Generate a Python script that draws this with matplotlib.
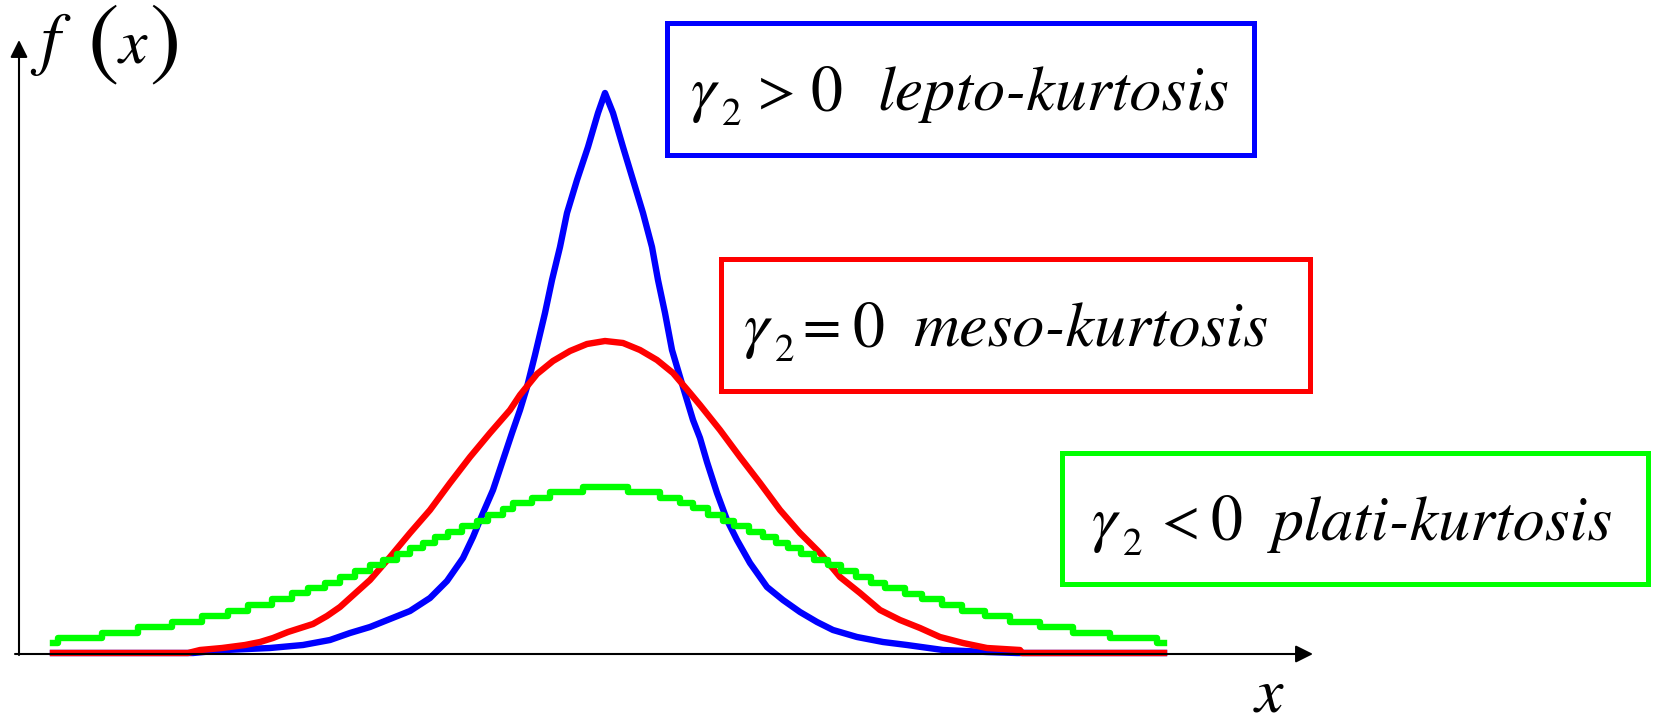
import matplotlib
matplotlib.use("Agg")
import matplotlib.pyplot as plt
from matplotlib.patches import Rectangle

# Times-like serif faces (STIX ships with matplotlib)
plt.rcParams["font.family"] = ["STIXGeneral", "Liberation Serif", "DejaVu Serif"]

# ---- density curves (x in standard units, f(x) in arbitrary density units) ----
lepto_x = [-5.52, -4.12, -3.80, -3.35, -3.02, -2.75, -2.55, -2.35, -2.15, -1.95,
           -1.75, -1.58, -1.42, -1.32, -1.22, -1.12, -1.02, -0.93, -0.85, -0.78,
           -0.70, -0.60, -0.53, -0.45, -0.38, -0.28, -0.17, -0.07, 0.00, 0.08,
           0.18, 0.28, 0.38, 0.47, 0.53, 0.60, 0.67, 0.78, 0.88, 0.95,
           1.02, 1.12, 1.22, 1.32, 1.45, 1.62, 1.78, 1.95, 2.12, 2.28,
           2.52, 2.78, 3.02, 3.38, 3.82, 4.12, 5.59]
lepto_f = [0.001, 0.001, 0.004, 0.006, 0.009, 0.014, 0.021, 0.027, 0.035, 0.043,
           0.056, 0.073, 0.096, 0.117, 0.141, 0.164, 0.194, 0.221, 0.244, 0.267,
           0.299, 0.341, 0.374, 0.407, 0.441, 0.474, 0.507, 0.541, 0.561, 0.541,
           0.507, 0.474, 0.441, 0.407, 0.374, 0.341, 0.304, 0.267, 0.234, 0.216,
           0.192, 0.161, 0.134, 0.114, 0.091, 0.067, 0.054, 0.042, 0.032, 0.024,
           0.017, 0.012, 0.009, 0.004, 0.002, 0.001, 0.001]

meso_x = [-5.52, -4.17, -4.05, -3.83, -3.60, -3.45, -3.32, -3.17, -2.92, -2.78,
          -2.65, -2.55, -2.35, -2.15, -1.95, -1.75, -1.55, -1.35, -1.15, -0.95,
          -0.85, -0.68, -0.52, -0.35, -0.18, 0.00, 0.18, 0.35, 0.52, 0.68,
          0.85, 0.95, 1.15, 1.35, 1.55, 1.75, 1.95, 2.15, 2.35, 2.55,
          2.75, 2.95, 3.15, 3.35, 3.58, 3.82, 4.15, 4.17, 5.59]
meso_f = [0.001, 0.001, 0.004, 0.006, 0.009, 0.012, 0.016, 0.022, 0.030, 0.038,
          0.047, 0.056, 0.074, 0.097, 0.121, 0.144, 0.171, 0.197, 0.221, 0.244,
          0.259, 0.280, 0.293, 0.303, 0.310, 0.313, 0.311, 0.304, 0.294, 0.281,
          0.261, 0.249, 0.224, 0.197, 0.171, 0.144, 0.121, 0.101, 0.077, 0.061,
          0.044, 0.034, 0.026, 0.017, 0.011, 0.006, 0.004, 0.001, 0.001]

plati_x = [-5.52, -5.47, -5.03, -4.67, -4.33, -4.03, -3.77, -3.57, -3.33, -3.13,
           -2.97, -2.80, -2.65, -2.50, -2.35, -2.22, -2.08, -1.95, -1.82, -1.70,
           -1.57, -1.43, -1.28, -1.17, -1.02, -0.92, -0.73, -0.55, -0.22, 0.23,
           0.55, 0.75, 0.88, 1.03, 1.18, 1.29, 1.44, 1.58, 1.71, 1.83,
           1.96, 2.09, 2.23, 2.36, 2.51, 2.66, 2.80, 3.00, 3.17, 3.37,
           3.57, 3.80, 4.05, 4.35, 4.68, 5.05, 5.52, 5.59]
plati_f = [0.011, 0.016, 0.021, 0.027, 0.032, 0.038, 0.043, 0.049, 0.055, 0.061,
           0.066, 0.071, 0.077, 0.083, 0.089, 0.094, 0.100, 0.106, 0.111, 0.117,
           0.122, 0.128, 0.133, 0.139, 0.145, 0.151, 0.156, 0.162, 0.167, 0.162,
           0.156, 0.151, 0.146, 0.139, 0.133, 0.128, 0.122, 0.117, 0.111, 0.106,
           0.100, 0.094, 0.089, 0.083, 0.077, 0.071, 0.066, 0.060, 0.055, 0.049,
           0.043, 0.038, 0.032, 0.027, 0.021, 0.016, 0.011, 0.011]

relations = [">", "=", "<"]
kurtosis_names = ["lepto-kurtosis", "meso-kurtosis", "plati-kurtosis"]
colors = ["#0000ff", "#ff0000", "#00ff00"]

W, H = 1655, 725
fig = plt.figure(figsize=(W / 100, H / 100), dpi=100)

# main data axes (no spines; the coordinate axes are drawn as arrows)
ax = fig.add_axes([0, 0, 1, 1])
ax.set_xlim(-6.05, 10.50)
ax.set_ylim(-0.071, 0.654)
ax.axis("off")

LW = 4.6
ax.plot(lepto_x, lepto_f, color=colors[0], lw=LW, zorder=2)
ax.plot(meso_x, meso_f, color=colors[1], lw=LW, zorder=3)
ax.plot(plati_x, plati_f, color=colors[2], lw=LW, drawstyle="steps-post", zorder=4)

arrow = dict(arrowstyle="-|>,head_length=0.7,head_width=0.35", mutation_scale=15,
             lw=1.5, color="black", shrinkA=0, shrinkB=0)
ax.annotate("", xy=(7.08, 0), xytext=(-5.90, 0), arrowprops=arrow, zorder=6)
ax.annotate("", xy=(-5.86, 0.614), xytext=(-5.86, -0.001), arrowprops=arrow, zorder=6)

# overlay in pixel units for labels and boxes
ov = fig.add_axes([0, 0, 1, 1])
ov.set_xlim(0, W)
ov.set_ylim(H, 0)
ov.axis("off")
ov.patch.set_alpha(0)

FS = 46
# f(x) axis title
ov.text(40, 62, "f", fontsize=50, style="italic", va="baseline")
ov.text(87, 67, "(", fontsize=68, va="baseline")
ov.text(119, 62, "x", fontsize=FS, style="italic", va="baseline")
ov.text(149, 67, ")", fontsize=68, va="baseline")
# x axis title
ov.text(1255, 711, "x", fontsize=FS, style="italic", va="baseline")

# boxes: (left, top, right, bottom) of the frame centre line
frames = [(667, 23, 1254, 155), (720.5, 258.5, 1309.5, 390.5), (1061.5, 452.5, 1647.5, 583.5)]
# text layout: gamma x, baseline, relation dx, zero dx, word x
layouts = [(691, 110, 67, 119, 877), (744, 346, 58, 108, 913), (1092, 540, 70, 119, 1272)]

for (l, t, r, b), (gx, base, rdx, zdx, wx), rel, name, c in zip(
        frames, layouts, relations, kurtosis_names, colors):
    ov.add_patch(Rectangle((l, t), r - l, b - t, fill=False, edgecolor=c,
                           lw=3.6, joinstyle="miter"))
    ov.text(gx, base, "γ", fontsize=FS, style="italic", va="baseline")
    ov.text(gx + 31, base + 15, "2", fontsize=28, va="baseline")
    ov.text(gx + rdx, base - 2, rel, fontsize=40, va="baseline")
    ov.text(gx + zdx, base, "0", fontsize=FS, va="baseline")
    ov.text(wx, base, name, fontsize=FS, style="italic", va="baseline")

fig.savefig("out.png", dpi=100, facecolor="white")
